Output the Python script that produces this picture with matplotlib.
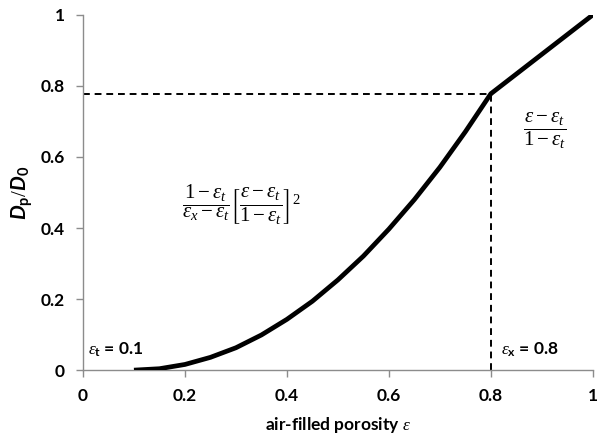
import matplotlib.pyplot as plt

# === Data ===
eps = [0.1, 0.15, 0.2, 0.25, 0.3, 0.35, 0.4, 0.45, 0.5, 0.55, 0.6, 0.65, 0.7, 0.75, 0.8, 0.9, 1.0]
ratio = [0.0, 0.004, 0.016, 0.036, 0.063, 0.099, 0.143, 0.194, 0.254, 0.321, 0.397, 0.480, 0.571, 0.671, 0.778, 0.889, 1.0]
eps_x = 0.8
ratio_x = 0.778
xticks = [0, 0.2, 0.4, 0.6, 0.8, 1]
yticks = [0, 0.2, 0.4, 0.6, 0.8, 1]
xtick_labels = ["0", "0.2", "0.4", "0.6", "0.8", "1"]
ytick_labels = ["0", "0.2", "0.4", "0.6", "0.8", "1"]

plt.rcParams['font.family'] = ['Lato', 'DejaVu Sans']
plt.rcParams['mathtext.fontset'] = 'custom'
plt.rcParams['mathtext.rm'] = 'Liberation Serif'
plt.rcParams['mathtext.it'] = 'Liberation Serif:italic'
plt.rcParams['mathtext.bf'] = 'Lato:bold'
plt.rcParams['mathtext.sf'] = 'Lato:bold:italic'
plt.rcParams['mathtext.fallback'] = 'stix'

fig = plt.figure(figsize=(5.97, 4.37), dpi=100)
ax = fig.add_axes([0.139, 0.153, 0.854, 0.813])

# curve
ax.plot(eps, ratio, color="black", lw=3.4, solid_capstyle="butt", zorder=3)

# dashed guides
ax.plot([0, eps_x], [ratio_x, ratio_x], color="black", lw=1.4, ls=(0, (3.5, 2.5)), zorder=2)
ax.plot([eps_x, eps_x], [0, ratio_x], color="black", lw=1.4, ls=(0, (3.5, 2.5)), zorder=2)

ax.set_xlim(0, 1)
ax.set_ylim(0, 1)
ax.set_xticks(xticks)
ax.set_xticklabels(xtick_labels)
ax.set_yticks(yticks)
ax.set_yticklabels(ytick_labels)

for side in ["top", "right"]:
    ax.spines[side].set_visible(False)
for side in ["left", "bottom"]:
    ax.spines[side].set_color("#8c8c8c")
    ax.spines[side].set_linewidth(1.0)
ax.tick_params(axis="both", direction="out", length=5, width=1.0, color="#8c8c8c",
               labelsize=12.5, pad=8)
for lab in ax.get_xticklabels() + ax.get_yticklabels():
    lab.set_fontweight("bold")

ax.set_xlabel(r"air-filled porosity $\varepsilon$", fontsize=12.5, fontweight="bold", labelpad=8)
ax.set_ylabel(r"$\mathsf{D}_\mathbf{p}/\mathsf{D}_\mathbf{0}$", fontsize=15, labelpad=4)

# annotations
ax.text(0.01, 0.03, r"$\varepsilon_\mathbf{t}$" + " = 0.1", fontsize=12.5, fontweight="bold",
        ha="left", va="bottom")
ax.text(0.82, 0.03, r"$\varepsilon_\mathbf{x}$" + " = 0.8", fontsize=12.5, fontweight="bold",
        ha="left", va="bottom")
ax.text(0.31, 0.465,
        r"$\dfrac{1-\varepsilon_t}{\varepsilon_x-\varepsilon_t}\left[\dfrac{\varepsilon-\varepsilon_t}{1-\varepsilon_t}\right]^2$",
        fontsize=15, ha="center", va="center")
ax.text(0.905, 0.675, r"$\dfrac{\varepsilon-\varepsilon_t}{1-\varepsilon_t}$",
        fontsize=15, ha="center", va="center")

fig.savefig("out.png", dpi=100)
